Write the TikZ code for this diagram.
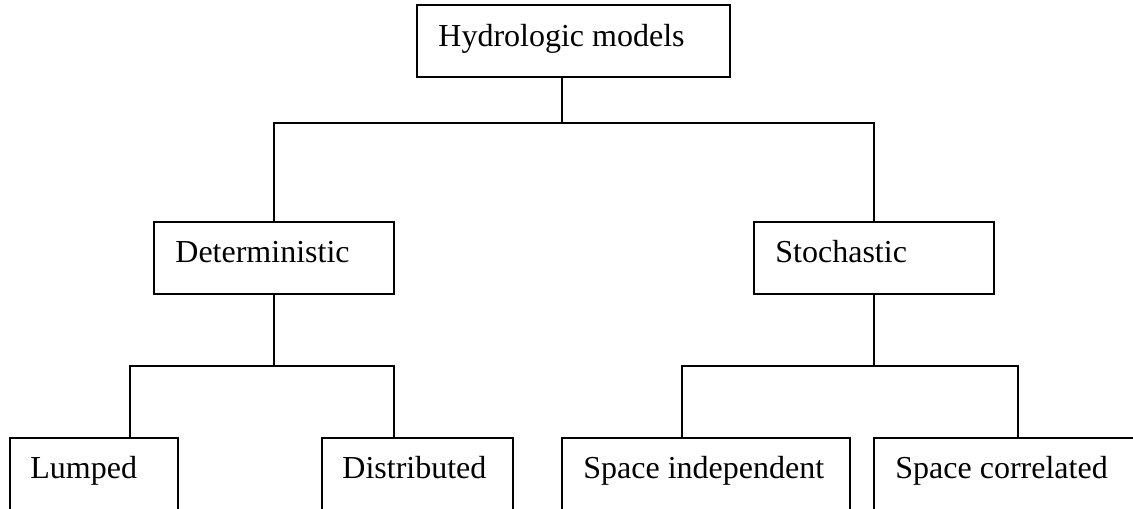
\documentclass[tikz,border=0pt]{standalone}
\usepackage{fontspec}
\setmainfont{Liberation Serif}
\usetikzlibrary{calc}
\begin{document}
\begin{tikzpicture}[x=0.5pt,y=-0.5pt,
  box/.style={draw=black, line width=1pt, inner sep=0pt, outer sep=0pt, anchor=north west, minimum height=36pt},
  openbox/.style={draw=black, line width=1pt, inner sep=0pt, outer sep=0pt, anchor=north west, minimum height=60pt},
  lbl/.style={inner sep=0pt, anchor=base west, font=\fontsize{16pt}{19pt}\selectfont},
  link/.style={draw=black, line width=1pt}]
\useasboundingbox (0,0) rectangle (1133,508);
\clip (0,0) rectangle (1133,508);
% boxes
\node[box, minimum width=156.5pt] (top) at (417,5) {};
\node[box, minimum width=120pt] (det) at (154,222) {};
\node[box, minimum width=120pt] (sto) at (754,222) {};
\node[openbox, minimum width=84pt] (lum) at (10,438) {};
\node[openbox, minimum width=95.5pt] (dis) at (322,438) {};
\node[openbox, minimum width=144pt] (ind) at (562,438) {};
\node[openbox, minimum width=163pt] (cor) at (874,438) {};
% labels
\node[lbl] (toptxt) at ($(top.north west)+(21,42)$) {Hydrologic models};
\node[lbl] (dettxt) at ($(det.north west)+(21,40)$) {Deterministic};
\node[lbl] (stotxt) at ($(sto.north west)+(21,40)$) {Stochastic};
\node[lbl] (lumtxt) at ($(lum.north west)+(20,40)$) {Lumped};
\node[lbl] (distxt) at ($(dis.north west)+(20,40)$) {Distributed};
\node[lbl] (indtxt) at ($(ind.north west)+(21,40)$) {Space independent};
\node[lbl] (cortxt) at ($(cor.north west)+(21,40)$) {Space correlated};
% junctions
\coordinate (t0) at (562,123);
\coordinate (d1) at (274,366);
\coordinate (s1) at (874,366);
\coordinate (la) at (130,438);
\coordinate (da) at (394,438);
\coordinate (ia) at (682,438);
\coordinate (ca) at (1018,438);
% connectors
\draw[link] (t0 |- top.south) -- (t0);
\draw[link] (det.north) |- (t0) -| (sto.north);
\draw[link] (det.south) -- (d1);
\draw[link] (la) |- (d1) -| (da);
\draw[link] (sto.south) -- (s1);
\draw[link] (ia) |- (s1) -| (ca);
\end{tikzpicture}
\end{document}
